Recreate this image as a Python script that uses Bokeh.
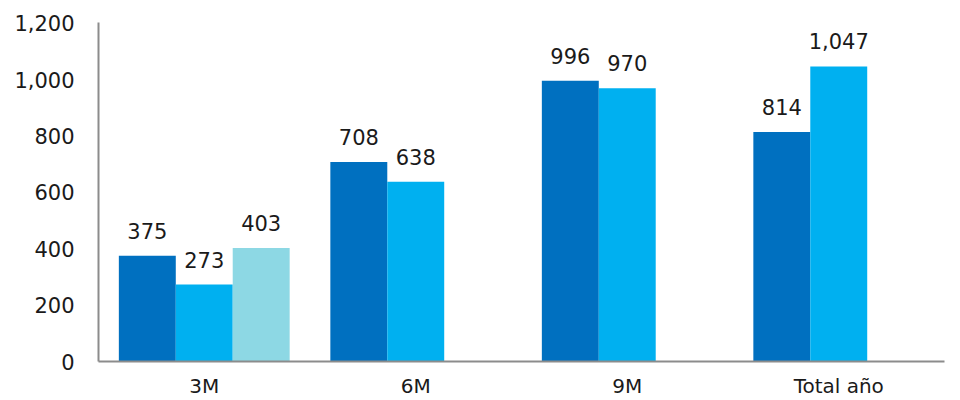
from bokeh.plotting import figure
from bokeh.models import Range1d, FactorRange, FixedTicker, NumeralTickFormatter, ColumnDataSource
from bokeh.transform import dodge
from bokeh.core.properties import value
from bokeh.embed import file_html
from bokeh.resources import INLINE

categories = ["3M", "6M", "9M", "Total año"]
series_a = [375, 708, 996, 814]
series_b = [273, 638, 970, 1047]
series_c = [403, None, None, None]
y_ticks = [0, 200, 400, 600, 800, 1000, 1200]

colors = ["#0070C0", "#00B0F0", "#8DD8E4"]
FONT = "DejaVu Sans"
TXT = "#1a1a1a"
BAR_W = 0.2692

p = figure(width=960, height=400, output_backend="svg", toolbar_location=None,
           x_range=FactorRange(*categories, range_padding=0), y_range=Range1d(0, 1203),
           min_border_left=98, min_border_right=16, min_border_top=22, min_border_bottom=38)
p.outline_line_color = None
p.background_fill_color = "white"
p.border_fill_color = "white"
p.xgrid.visible = False
p.ygrid.visible = False

for j, (ser, col) in enumerate(zip([series_a, series_b, series_c], colors)):
    cats = [c for c, v in zip(categories, ser) if v is not None]
    vals = [v for v in ser if v is not None]
    src = ColumnDataSource(dict(cat=cats, top=vals, lab=[f"{v:,}" for v in vals]))
    xpos = dodge("cat", (j - 1) * BAR_W, range=p.x_range)
    p.vbar(x=xpos, top="top", bottom=0, width=BAR_W, color=col, line_color=None, source=src)
    p.text(x=xpos, y="top", text="lab", source=src, text_align="center", text_baseline="middle",
           y_offset=-25, text_font=value(FONT), text_font_size="21px", text_color=TXT)

# y axis
p.yaxis.ticker = FixedTicker(ticks=y_ticks)
p.yaxis.formatter = NumeralTickFormatter(format="0,0")
p.yaxis.major_label_text_font = FONT
p.yaxis.major_label_text_font_size = "21px"
p.yaxis.major_label_text_color = TXT
p.yaxis.major_label_standoff = 24
p.yaxis.major_tick_out = 0
p.yaxis.major_tick_in = 0
p.yaxis.minor_tick_out = 0
p.yaxis.minor_tick_in = 0
p.yaxis.axis_line_color = "#8c8c8c"
p.yaxis.axis_line_width = 2

# x axis
p.xaxis.major_label_text_font = FONT
p.xaxis.major_label_text_font_size = "20px"
p.xaxis.major_label_text_color = TXT
p.xaxis.major_label_standoff = 12
p.xaxis.major_tick_out = 0
p.xaxis.major_tick_in = 0
p.xaxis.axis_line_color = "#8c8c8c"
p.xaxis.axis_line_width = 2

open("out.html", "w").write(file_html(p, INLINE))
